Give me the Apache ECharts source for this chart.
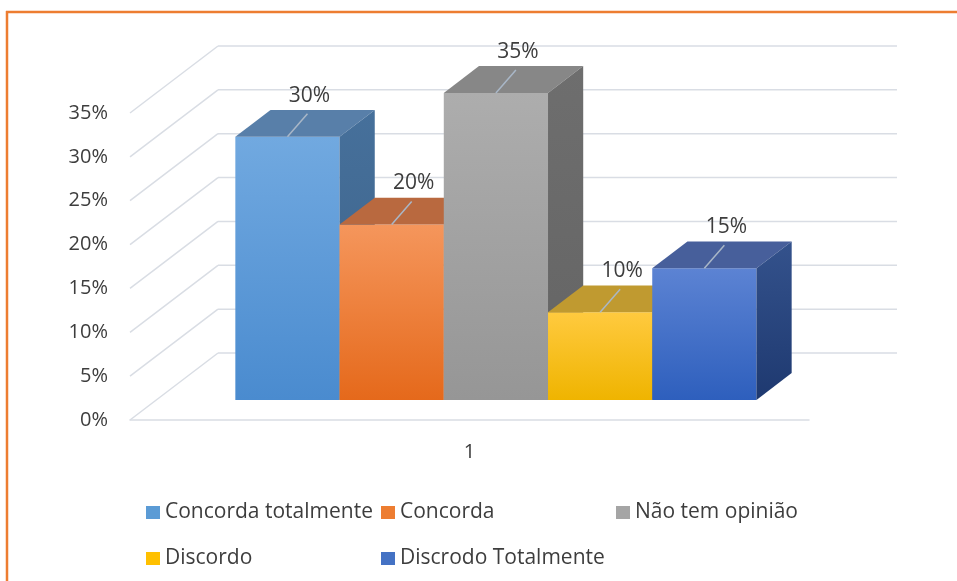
<!DOCTYPE html>
<html>
<head>
<meta charset="utf-8">
<script src="https://cdn.jsdelivr.net/npm/echarts@6/dist/echarts.min.js"></script>
<style>
  html, body { margin: 0; padding: 0; background: #fff; }
  #chart { width: 957px; height: 581px; }
</style>
</head>
<body>
<div id="chart"></div>
<script>
const categories = ['1'];
const seriesNames = ['Concorda totalmente', 'Concorda', 'Não tem opinião', 'Discordo', 'Discrodo Totalmente'];
const seriesValues = [30, 20, 35, 10, 15];
const yTicks = [0, 5, 10, 15, 20, 25, 30, 35];

// front gradient / top / side gradient / legend colour for every bar
const barColors = [
  { front: ['#71a9e0', '#4a8bcf'], top: '#587fa9', side: ['#46709b', '#3d6288'], legend: '#5b9bd5' },
  { front: ['#f5965c', '#e5691b'], top: '#b9693f', side: ['#b85f2a', '#a85320'], legend: '#ed7d31' },
  { front: ['#adadad', '#969696'], top: '#878787', side: ['#6e6e6e', '#646464'], legend: '#a5a5a5' },
  { front: ['#ffca3f', '#efb400'], top: '#c09a30', side: ['#b88f10', '#a88000'], legend: '#ffc000' },
  { front: ['#5c83d3', '#2e5fbd'], top: '#475f9b', side: ['#34528c', '#1e3970'], legend: '#4472c4' }
];

const DEPTH = [88, -67];     // floor depth, px
const BAR_FRONT = 0.3;       // where bars start inside the depth
const BAR_DEPTH = 0.4;       // how deep the bars are
const BAR_SHARE = 0.1535;    // one bar width / category band
const FONT = '"Open Sans", sans-serif';
const TEXT = '#3d3d3d';
const GRID_LINE = '#d9dde4';

const chart = echarts.init(document.getElementById('chart'));

function gridRenderer(params, api) {
  const cs = params.coordSys;
  const y = api.coord([0, api.value(1)])[1];
  const style = { stroke: GRID_LINE, lineWidth: 1.5 };
  return {
    type: 'group',
    children: [
      { type: 'line', shape: { x1: cs.x, y1: y, x2: cs.x + DEPTH[0], y2: y + DEPTH[1] }, style: style },
      { type: 'line', shape: { x1: cs.x + DEPTH[0], y1: y + DEPTH[1], x2: cs.x + cs.width + DEPTH[0], y2: y + DEPTH[1] }, style: style }
    ]
  };
}

function barRenderer(idx) {
  const c = barColors[idx];
  return function (params, api) {
    const band = api.size([1, 0])[0];
    const w = band * BAR_SHARE;
    const base = api.coord([api.value(0), 0]);
    const top = api.coord([api.value(0), api.value(1)]);
    const fx = DEPTH[0] * BAR_FRONT, fy = DEPTH[1] * BAR_FRONT;
    const dx = DEPTH[0] * BAR_DEPTH, dy = DEPTH[1] * BAR_DEPTH;
    const x0 = base[0] + (idx - 2.5) * w + fx;
    const y0 = base[1] + fy;
    const y1 = top[1] + fy;
    const cx = x0 + w / 2;
    return {
      type: 'group',
      children: [
        {
          type: 'rect',
          shape: { x: x0, y: y1, width: w, height: y0 - y1 },
          style: { fill: new echarts.graphic.LinearGradient(0, 0, 0, 1, [
            { offset: 0, color: c.front[0] }, { offset: 1, color: c.front[1] }]) }
        },
        {
          type: 'polygon',
          shape: { points: [[x0, y1], [x0 + w, y1], [x0 + w + dx, y1 + dy], [x0 + dx, y1 + dy]] },
          style: { fill: c.top }
        },
        {
          type: 'polygon',
          shape: { points: [[x0 + w, y1], [x0 + w + dx, y1 + dy], [x0 + w + dx, y0 + dy], [x0 + w, y0]] },
          style: { fill: new echarts.graphic.LinearGradient(0, 0, 0, 1, [
            { offset: 0, color: c.side[0] }, { offset: 1, color: c.side[1] }]) }
        },
        {
          type: 'line',
          shape: { x1: cx, y1: y1, x2: cx + 20, y2: y1 - 23 },
          style: { stroke: '#a9b7c7', lineWidth: 1.5 }
        },
        {
          type: 'text',
          style: {
            text: api.value(1) + '%', x: cx + 22, y: y1 - 41,
            align: 'center', verticalAlign: 'middle',
            fill: TEXT, font: '21px ' + FONT
          }
        }
      ]
    };
  };
}

const legendPos = [[146, 502], [381, 502], [616, 502], [146, 548], [381, 548]];

const series = [{
  type: 'custom',
  name: 'grid',
  silent: true,
  renderItem: gridRenderer,
  data: yTicks.map(v => [0, v]),
  z: 1
}];
seriesNames.forEach((name, i) => {
  series.push({
    type: 'custom',
    name: name,
    renderItem: barRenderer(i),
    itemStyle: { color: barColors[i].legend },
    data: [[0, seriesValues[i]]],
    z: 2
  });
});

const option = {
  animation: false,
  grid: { left: 130, right: 148, top: 113, bottom: 161, containLabel: false },
  graphic: [
    { type: 'line', shape: { x1: 6, y1: 12, x2: 957, y2: 12 }, style: { stroke: '#ed7d31', lineWidth: 2.5 } },
    { type: 'line', shape: { x1: 7, y1: 11, x2: 7, y2: 581 }, style: { stroke: '#ed7d31', lineWidth: 2.5 } }
  ],
  legend: seriesNames.map((n, i) => ({
    data: [n],
    left: legendPos[i][0],
    top: legendPos[i][1],
    padding: 0,
    icon: 'rect',
    itemWidth: 14,
    itemHeight: 13,
    selectedMode: false,
    textStyle: { color: TEXT, fontSize: 21, fontFamily: FONT }
  })),
  xAxis: {
    type: 'category',
    data: categories,
    axisLine: { lineStyle: { color: GRID_LINE, width: 1.5 } },
    axisTick: { show: false },
    axisLabel: { color: TEXT, fontSize: 20, fontFamily: FONT, margin: 22 }
  },
  yAxis: {
    type: 'value',
    min: 0,
    max: 35,
    interval: 5,
    axisLine: { show: false },
    axisTick: { show: false },
    splitLine: { show: false },
    axisLabel: { color: TEXT, fontSize: 20, fontFamily: FONT, margin: 22, formatter: '{value}%' }
  },
  series: series
};

chart.setOption(option);
</script>
</body>
</html>
